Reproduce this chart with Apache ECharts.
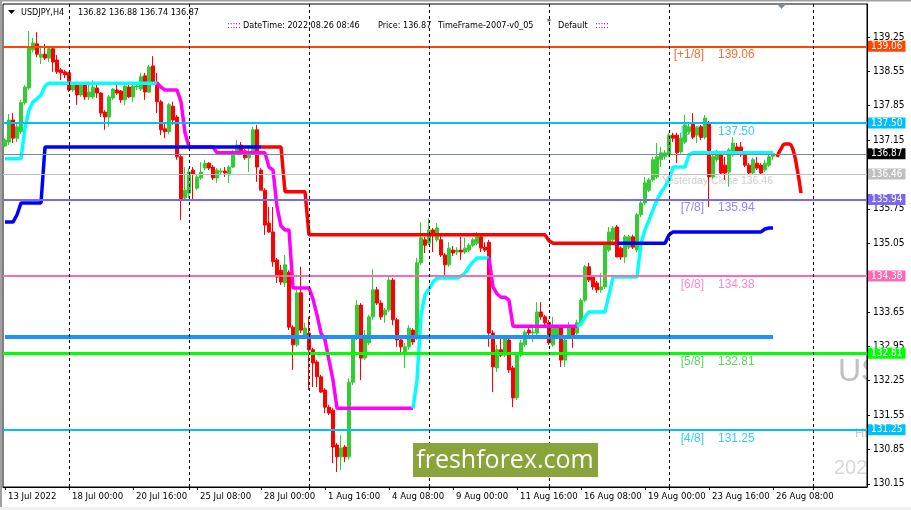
<!DOCTYPE html>
<html><head><meta charset="utf-8">
<script src="https://cdn.jsdelivr.net/npm/echarts@6/dist/echarts.min.js"></script>
<style>html,body{margin:0;padding:0;background:#fff}#c{width:911px;height:510px}</style>
</head><body><div id="c"></div>
<script>
// ---------- DATA ----------
const symbolTitle = 'USDJPY,H4';
const headerOHLC = [136.82, 136.88, 136.74, 136.87];
const infoDateTime = '2022.08.26 08:46';
const infoPrice = 136.87;
const infoFrame = 'TimeFrame-2007-v0_05';
const infoProfile = 'Default';

// H4 candles: [open, close, low, high]
const candles = [
[137.03,137.15,137.01,137.19],[137.11,137.56,137.05,137.68],[137.56,137.19,137.09,137.70],[137.19,137.42,137.11,137.52],
[137.32,137.91,137.27,137.97],[137.91,138.23,137.87,138.27],[138.21,139.03,138.17,139.37],[138.99,139.13,138.94,139.23],
[139.11,138.90,138.84,139.35],[138.84,138.90,138.70,139.03],[138.90,138.82,138.78,139.11],[138.82,139.01,138.74,139.03],
[139.01,138.74,138.54,139.05],[138.78,138.54,138.50,138.88],[138.58,138.52,138.37,138.62],[138.54,138.48,138.41,138.58],
[138.52,138.17,138.13,138.54],[138.17,138.27,138.13,138.31],[138.27,138.07,137.87,138.31],[138.07,138.27,138.03,138.29],
[138.27,138.03,137.97,138.29],[138.03,138.13,137.97,138.33],[138.03,138.23,137.99,138.37],[138.21,138.11,138.01,138.27],
[138.11,137.70,137.62,138.13],[137.72,137.62,137.36,137.76],[137.62,138.03,137.42,138.07],[138.01,138.19,137.97,138.21],
[138.17,138.11,138.07,138.33],[138.15,137.97,137.91,138.17],[137.97,138.25,137.87,138.27],[138.23,138.03,138.01,138.27],
[138.03,138.25,137.93,138.29],[138.23,138.25,138.17,138.31],[138.19,138.44,138.15,138.52],[138.46,138.13,137.97,138.52],
[138.13,138.64,138.11,138.68],[138.66,138.33,138.29,138.86],[138.33,137.93,137.70,138.52],[137.93,137.36,137.25,137.97],
[137.38,137.32,137.19,137.52],[137.32,137.87,137.27,137.91],[137.84,137.56,137.46,137.93],[137.62,136.81,136.75,137.66],
[136.81,135.93,135.52,136.85],[135.97,136.13,135.93,136.60],[136.07,136.50,135.97,136.58],[136.54,136.46,135.93,136.60],
[136.17,136.40,136.13,136.44],[136.38,136.50,136.34,136.70],[136.58,136.68,136.54,136.75],[136.68,136.58,136.54,136.70],
[136.60,136.38,136.34,136.64],[136.38,136.54,136.28,136.58],[136.50,136.52,136.44,136.58],[136.52,136.48,136.40,136.60],
[136.44,136.60,136.28,136.64],[136.60,136.91,136.58,136.95],[136.91,137.05,136.89,137.15],[137.05,136.93,136.85,137.11],
[136.93,136.79,136.75,136.97],[136.79,136.91,136.50,136.99],[136.91,137.36,136.87,137.42],[137.36,136.60,136.30,137.46],
[136.54,136.13,136.13,136.58],[136.13,135.42,135.22,136.17],[135.46,135.28,135.26,135.79],[135.28,134.67,134.57,135.79],
[134.71,134.36,134.24,134.75],[134.50,134.26,134.20,134.61],[134.24,134.61,134.16,134.81],[134.46,133.34,133.28,134.50],
[133.34,132.98,132.47,133.38],[132.98,134.04,132.94,134.10],[134.04,133.28,133.22,134.57],[133.18,133.32,133.14,133.43],
[133.22,132.88,132.06,133.55],[132.88,132.61,132.12,132.92],[132.63,132.33,132.12,132.67],[132.33,132.02,132.00,132.37],
[132.06,131.71,131.59,132.10],[131.71,131.59,131.55,131.76],[131.65,130.90,130.57,131.69],[130.94,130.70,130.39,130.98],
[130.70,130.88,130.43,131.14],[130.90,130.70,130.59,130.94],[130.70,132.22,130.64,132.30],[132.22,133.12,132.16,133.18],
[133.12,133.79,133.08,133.89],[133.79,132.71,132.26,133.83],[132.71,133.18,132.67,133.28],[133.02,133.55,132.98,133.59],
[133.55,134.10,133.49,134.52],[134.10,133.83,133.79,134.16],[133.83,133.55,133.49,133.89],[133.59,133.69,133.43,133.73],
[133.69,134.30,133.65,134.40],[134.30,133.49,133.38,134.34],[133.49,133.08,132.94,133.53],[133.08,132.94,132.81,133.12],
[132.81,132.94,132.51,133.02],[132.94,133.32,132.88,133.38],[133.28,133.04,132.98,133.32],[133.12,134.65,133.08,134.75],
[134.65,135.16,134.61,135.48],[135.12,135.01,134.85,135.18],[135.05,135.32,135.01,135.56],[135.32,135.22,134.87,135.36],
[135.12,135.36,135.07,135.46],[135.12,134.81,134.77,135.26],[134.81,134.61,134.36,134.85],[134.61,134.95,134.57,135.07],
[134.91,134.85,134.79,134.99],[134.87,134.91,134.81,134.97],[134.91,134.87,134.71,135.18],[134.87,134.95,134.83,135.16],
[134.91,135.01,134.87,135.05],[135.01,135.12,134.97,135.16],[135.05,135.18,135.01,135.28],[135.18,134.95,134.87,135.22],
[134.97,134.91,134.87,135.07],[135.07,133.22,132.94,135.12],[133.22,132.53,132.02,133.28],[132.51,132.88,132.43,132.98],
[132.88,132.77,132.73,133.12],[132.77,133.12,132.73,133.18],[133.08,132.47,132.41,133.12],[132.51,131.90,131.71,132.55],
[131.90,132.77,131.86,132.83],[132.77,133.02,132.73,133.08],[132.98,133.24,132.94,133.28],[133.28,133.22,133.14,133.32],
[133.22,133.24,133.04,133.34],[133.22,133.65,133.18,133.85],[133.65,133.55,133.49,133.85],[133.55,133.43,133.38,133.59],
[133.43,133.02,132.98,133.49],[132.98,133.34,132.94,133.55],[133.18,133.34,133.14,133.38],[133.34,132.67,132.53,133.38],
[132.67,133.08,132.53,133.12],[133.14,133.32,133.10,133.45],[133.34,133.14,132.92,133.38],[133.22,133.43,133.18,133.49],
[133.43,133.89,133.38,133.93],[133.89,134.57,133.85,134.61],[134.57,134.30,134.26,134.65],[134.36,134.16,134.10,134.40],
[134.24,134.10,134.04,134.28],[134.10,134.16,134.04,134.44],[134.16,135.01,134.12,135.05],[134.91,135.28,134.87,135.38],
[135.12,135.36,135.07,135.40],[135.38,134.77,134.77,135.42],[134.95,134.77,134.71,134.99],[134.77,135.18,134.65,135.22],
[134.97,135.18,134.93,135.22],[135.18,134.97,134.93,135.22],[134.91,135.63,134.87,135.67],[135.63,135.87,135.58,135.91],
[135.87,136.28,135.83,136.40],[136.13,136.34,136.09,136.38],[136.34,136.75,136.30,136.81],[136.40,136.81,136.36,137.09],
[136.75,136.89,136.60,137.01],[136.81,136.89,136.75,136.95],[136.85,137.25,136.81,137.30],[137.25,137.19,137.11,137.30],
[137.25,136.89,136.68,137.30],[136.91,137.19,136.87,137.30],[137.11,137.46,137.07,137.66],[137.32,137.42,137.27,137.50],
[137.50,137.21,137.17,137.70],[137.25,137.40,137.09,137.44],[137.42,137.21,137.15,137.46],[137.21,137.60,137.17,137.66],
[137.50,136.40,135.79,137.54],[136.40,136.81,136.36,136.85],[136.75,136.89,136.70,136.95],[136.89,136.48,136.44,136.93],
[136.64,136.48,136.34,136.81],[136.50,136.95,136.20,136.99],[136.85,137.09,136.81,137.21],[137.01,136.89,136.85,137.09],
[137.01,136.85,136.81,137.11],[136.89,136.64,136.60,136.93],[136.64,136.48,136.44,136.68],[136.48,136.75,136.44,136.79],
[136.68,136.58,136.54,136.81],[136.64,136.48,136.44,136.68],[136.54,136.68,136.50,136.75],[136.64,136.81,136.60,136.85],
[136.82,136.87,136.74,136.88]
];
const totalSlots = 216;   // bars incl. empty space to the right

// time-axis labels
const timeLabels = ['13 Jul 2022','18 Jul 00:00','20 Jul 16:00','25 Jul 08:00','28 Jul 00:00','1 Aug 16:00','4 Aug 08:00',
  '9 Aug 00:00','11 Aug 16:00','16 Aug 08:00','19 Aug 00:00','23 Aug 16:00','26 Aug 08:00'];
const timeLabelBars = [0,16,32,48,64,80,96,112,128,144,160,176,192];
const separatorBars = [16,46,76,106,136,166,202];

// price axis tick labels
const priceTicks = [130.15,130.85,131.55,132.25,132.95,133.65,134.35,135.05,135.75,136.45,137.15,137.85,138.55,139.25];
const priceMin = 130.085, priceMax = 139.922;

// trailing-line indicator: knots [bar, price]
const cyanA = [[0,136.77],[4,136.77],[5,137.40],[6,137.76],[7,137.93],[8,137.99],[9,138.07],[10,138.25],[11,138.31],[38,138.31]];
const magentaA = [[38,138.31],[39,138.23],[40,138.17],[43,138.17],[44,137.93],[45,137.30],[46,137.01],[52,137.01],[53,136.89],[65,136.89],
  [66,136.60],[67,136.54],[68,135.79],[69,135.40],[70,135.32],[71,135.32],[72,134.14],[76,134.14],[77,133.91],[78,133.59],[79,133.22],
  [80,133.08],[81,132.67],[82,132.26],[83,131.69],[102,131.69]];
const cyanB = [[102,131.69],[103,132.26],[104,133.59],[105,134.00],[106,134.12],[107,134.26],[108,134.34],[113,134.34],[114,134.38],
  [115,134.44],[116,134.57],[117,134.67],[118,134.75],[121,134.75]];
const magentaB = [[121,134.75],[122,134.16],[123,134.02],[124,133.95],[125,133.95],[126,133.89],[127,133.36],[143,133.36]];
const cyanC = [[143,133.36],[144,133.40],[145,133.55],[146,133.65],[150,133.65],[151,134.00],[152,134.36],[158,134.36],[159,135.05],
  [160,135.32],[161,135.52],[162,135.73],[163,135.93],[164,136.09],[165,136.20],[166,136.34],[167,136.60],[170,136.60],[171,136.85],
  [172,136.89],[192,136.89]];
// trend line indicator
const blueA = [[0,135.48],[2,135.48],[3,135.63],[4,135.87],[9,135.87],[10,137.01],[64,137.01]];
const redA = [[64,137.01],[69,137.01],[70,136.10],[75,136.10],[76,135.22],[135,135.22],[136,135.10],[137,135.05],[153,135.05]];
const blueB = [[153,135.05],[165,135.05],[166,135.22],[167,135.28],[189,135.28],[190,135.34],[191,135.36],[192,135.36]];
// forecast curve
const forecast = [[193,136.81],[194,136.97],[195,137.07],[196,137.07],[197,136.95],[198,136.58],[199,136.07]];

// Murrey levels
const levelTags   = ['[+1/8]','[8/8]','[7/8]','[6/8]','[5/8]','[4/8]'];
const levelValues = [139.06, 137.50, 135.94, 134.38, 132.81, 131.25];
const levelColors = ['#ff4500','#00bfff','#7b68ee','#ff69b4','#00ff00','#00bfff'];
const levelTextColors = ['#ff4500','#00bfff','#7b68ee','#ff69b4','#32cd32','#00bfff'];
const yesterdayClose = 136.46;
const pivotLine = 133.14;

// ---------- CHART ----------
const FONT = '"DejaVu Sans Condensed","Liberation Sans Narrow","DejaVu Sans",sans-serif';
const HFONT = '9px ' + FONT;
const cats = Array.from({length: totalSlots}, (_, i) => String(i));
const labelMap = {};
timeLabelBars.forEach((b, k) => labelMap[b] = timeLabels[k]);
const tickSet = new Set(timeLabelBars.concat(separatorBars));

const chart = echarts.init(document.getElementById('c'), null, {width: 911, height: 510});

function lineSeries(data, color, z, smooth) {
  return {type: 'line', data: data, symbol: 'none', smooth: smooth || false, z: z, silent: true,
    lineStyle: {color: color, width: 3.5}, animation: false};
}

const levelLines = levelValues.map((v, k) => ({
  yAxis: v, lineStyle: {color: levelColors[k], width: k === 4 ? 3 : 2, type: 'solid'},
  label: {backgroundColor: levelColors[k]}
}));
levelLines.push({yAxis: infoPrice, lineStyle: {color: '#778899', width: 1, type: 'solid'}, label: {backgroundColor: '#000'}});
levelLines.push({yAxis: yesterdayClose, lineStyle: {color: '#c0c0c0', width: 1, type: 'solid'}, label: {backgroundColor: '#c0c0c0'}});
levelLines.push([{coord: [0, pivotLine], lineStyle: {color: '#1e90ff', width: 4, type: 'solid'}, label: {show: false}},
                 {coord: [192, pivotLine]}]);
separatorBars.forEach(b => levelLines.push({xAxis: b, lineStyle: {color: '#000', width: 1, type: [3, 3]}, label: {show: false}}));

const textItems = [];
levelValues.forEach((v, k) => {
  textItems.push({value: [175, v], label: {formatter: levelTags[k], position: 'left', distance: 1, color: levelTextColors[k]}});
  textItems.push({value: [178, v], label: {formatter: v.toFixed(2), position: 'right', distance: 1, color: levelTextColors[k]}});
});
textItems.push({value: [192, yesterdayClose], label: {formatter: 'Yesterday Close ' + yesterdayClose.toFixed(2),
  position: 'left', distance: 0, offset: [0, 7], color: '#c0c0c0', fontSize: 10.5}});

function htext(t, x, y, fill) {
  return {type: 'text', style: {text: t, x: x, y: y, fill: fill || '#000', font: HFONT, verticalAlign: 'middle'}, z: 20, silent: true};
}

const option = {
  backgroundColor: '#ffffff',
  animation: false,
  grid: {left: 3, right: 44, top: 4, bottom: 23, show: true, borderColor: '#000', borderWidth: 1, backgroundColor: 'transparent'},
  xAxis: {
    type: 'category', data: cats, boundaryGap: true,
    axisLine: {show: true, lineStyle: {color: '#000'}},
    axisTick: {show: true, alignWithLabel: true, length: 3, interval: (i) => tickSet.has(i), lineStyle: {color: '#000'}},
    axisLabel: {show: true, interval: (i) => labelMap[i] !== undefined, formatter: (v, i) => labelMap[i] || '',
      align: 'left', margin: 5, padding: [0, 0, 0, 3], color: '#000', fontFamily: FONT, fontSize: 9.5},
    splitLine: {show: false}
  },
  yAxis: {
    type: 'value', position: 'right', min: priceMin, max: priceMax,
    axisLine: {show: true, lineStyle: {color: '#000'}},
    axisTick: {show: true, customValues: priceTicks, length: 3, inside: false, lineStyle: {color: '#000'}},
    axisLabel: {show: true, customValues: priceTicks, formatter: (v) => v.toFixed(2), margin: 6, color: '#000',
      fontFamily: FONT, fontSize: 10},
    splitLine: {show: false}
  },
  series: [
    {
      type: 'scatter', name: 'levels', z: 1, symbolSize: 0, silent: true, data: textItems,
      label: {show: true, fontFamily: '"Liberation Sans",Arial,sans-serif', fontSize: 12, offset: [0, 8.5]},
      markLine: {
        silent: true, symbol: ['none', 'none'], animation: false, precision: 2,
        label: {show: true, position: 'end', distance: 1, formatter: (p) => Number(p.value).toFixed(2),
          color: '#fff', fontFamily: FONT, fontSize: 10, padding: [1, 3, 0, 3]},
        data: levelLines
      }
    },
    {
      type: 'candlestick', name: symbolTitle, z: 2, data: candles, barWidth: 3, silent: true,
      itemStyle: {color: '#32cd32', color0: '#ff0000', borderColor: '#32cd32', borderColor0: '#ff0000', borderWidth: 1}
    },
    lineSeries(cyanA, '#00ffff', 3), lineSeries(magentaA, '#ff00ff', 3), lineSeries(cyanB, '#00ffff', 3),
    lineSeries(magentaB, '#ff00ff', 3), lineSeries(cyanC, '#00ffff', 3),
    lineSeries(blueA, '#0000ff', 3), lineSeries(redA, '#ff0000', 3), lineSeries(blueB, '#0000ff', 3),
    lineSeries(forecast, '#ff0000', 3, 0.5)
  ],
  graphic: [
    {type: 'rect', shape: {x: 0, y: 0, width: 2, height: 510}, style: {fill: '#a0a0a0'}, z: 20, silent: true},
    {type: 'rect', shape: {x: 0, y: 0, width: 911, height: 1.5}, style: {fill: '#a0a0a0'}, z: 20, silent: true},
    {type: 'rect', shape: {x: 0, y: 507, width: 911, height: 3}, style: {fill: '#f0f0f0'}, z: 20, silent: true},
    {type: 'text', style: {text: 'US', x: 838, y: 372, fill: '#c0c0c0', font: '32px "Liberation Sans", Arial, sans-serif', verticalAlign: 'middle'}, z: -10, silent: true},
    {type: 'text', style: {text: 'Hi', x: 855, y: 433, fill: '#c8c8c8', font: '13px "Liberation Sans", Arial, sans-serif', verticalAlign: 'middle'}, z: -10, silent: true},
    {type: 'text', style: {text: '2022', x: 834, y: 468, fill: '#d8d8d8', font: '20px "Liberation Sans", Arial, sans-serif', verticalAlign: 'middle'}, z: -10, silent: true},
    {type: 'rect', shape: {x: 868, y: 330, width: 43, height: 160}, style: {fill: '#fff'}, z: -9, silent: true},
    {type: 'rect', shape: {x: 413, y: 443, width: 185, height: 34}, style: {fill: '#89a43b'}, z: 10, silent: true},
    {type: 'text', style: {text: 'freshforex.com', x: 505, y: 461, fill: '#fff', font: '25px "Open Sans", "Liberation Sans", sans-serif', align: 'center', verticalAlign: 'middle'}, z: 11, silent: true},
    {type: 'polygon', shape: {points: [[8, 10], [15, 10], [11.5, 14]]}, style: {fill: '#000'}, z: 20, silent: true},
    htext(symbolTitle, 21, 12.5),
    htext(headerOHLC.map(v => v.toFixed(2)).join(' '), 78, 12.5),
    htext(':::::', 227, 26, '#800080'),
    htext('DateTime: ' + infoDateTime, 243, 26),
    htext('Price: ' + infoPrice.toFixed(2), 378, 26),
    htext(infoFrame, 438, 26),
    htext('*', 547, 23),
    htext(infoProfile, 558, 26),
    htext(':::::', 595, 26, '#800080'),
    {type: 'polygon', shape: {points: [[777, 4], [786, 4], [781.5, 9]]}, style: {fill: '#7f8a96'}, z: 20, silent: true}
  ]
};
chart.setOption(option);
</script>
</body></html>
